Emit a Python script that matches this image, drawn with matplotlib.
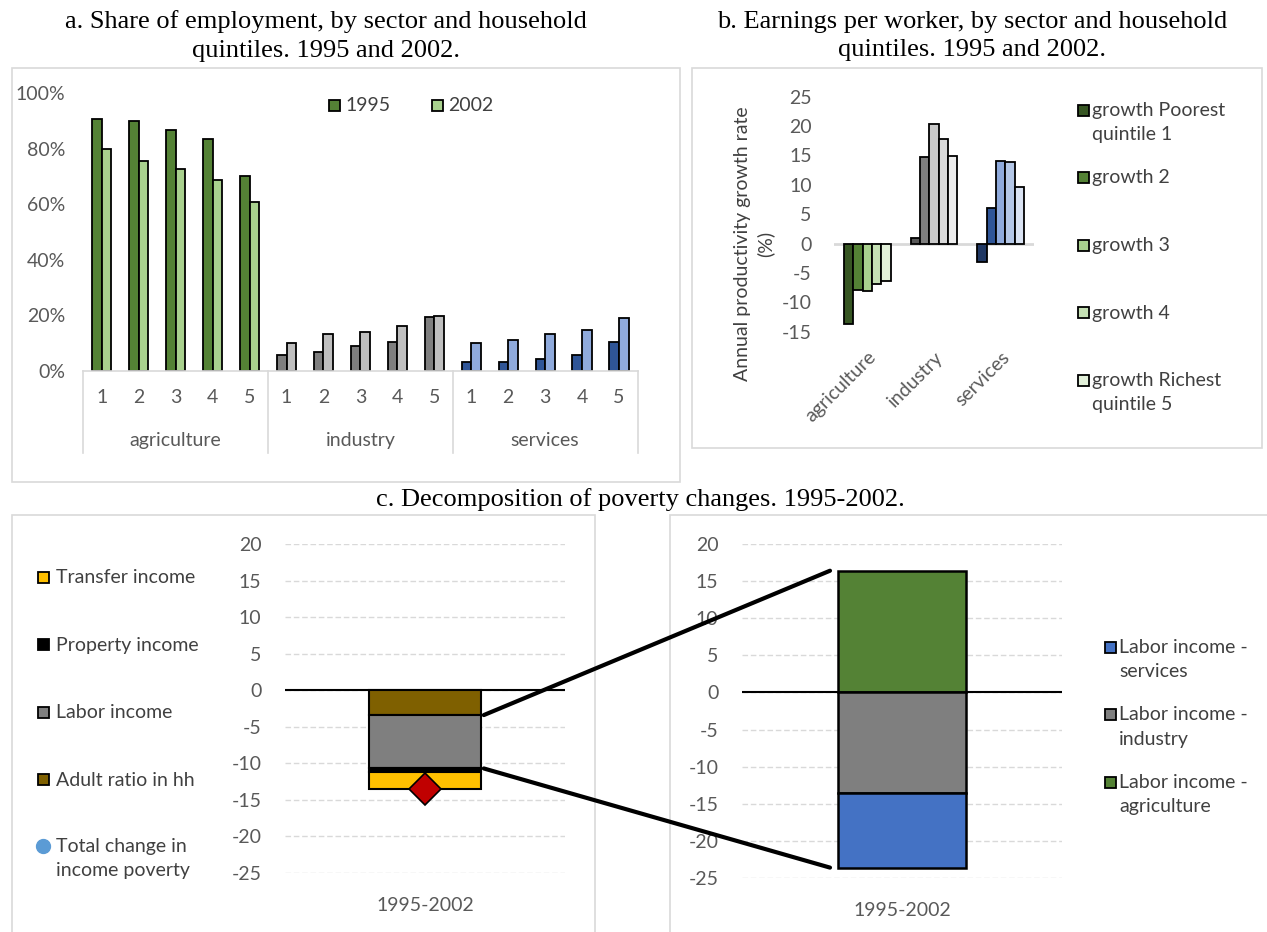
import numpy as np
import matplotlib
matplotlib.use("Agg")
import matplotlib.pyplot as plt
from matplotlib.patches import Rectangle, ConnectionPatch
from matplotlib.lines import Line2D
from matplotlib.ticker import PercentFormatter

plt.rcParams["font.family"] = ["Lato", "DejaVu Sans"]
plt.rcParams["axes.unicode_minus"] = False

# --- data -----------------------------------------------------------------
quintiles = ["1", "2", "3", "4", "5"]
sectors = ["agriculture", "industry", "services"]

# share of employment (%), by quintile
emp95_agri = [90.8, 90.0, 86.5, 83.5, 70.0]
emp02_agri = [80.0, 75.4, 72.5, 68.8, 60.6]
emp95_ind = [5.8, 6.6, 9.0, 10.4, 19.3]
emp02_ind = [9.8, 13.3, 13.9, 16.2, 19.8]
emp95_srv = [3.0, 3.0, 4.2, 5.8, 10.4]
emp02_srv = [9.8, 11.0, 13.2, 14.6, 19.1]

# annual productivity growth (%), by quintile
growth_agri = [-13.7, -7.9, -8.1, -6.9, -6.4]
growth_ind = [1.0, 14.7, 20.4, 17.8, 14.9]
growth_srv = [-3.2, 6.1, 14.1, 13.9, 9.7]
growth_labels = ["growth Poorest\nquintile 1", "growth 2", "growth 3",
                 "growth 4", "growth Richest\nquintile 5"]

# poverty decomposition 1995-2002 (stack order from zero downwards)
decomp_labels = ["Adult ratio in hh", "Labor income", "Property income", "Transfer income"]
decomp_values = [-3.4, -7.3, -0.5, -2.3]
total_change = -13.5

labor_labels = ["Labor income -\nagriculture", "Labor income -\nindustry", "Labor income -\nservices"]
labor_values = [16.4, -13.5, -10.1]

period = "1995-2002"

# --- colours --------------------------------------------------------------
greens = ["#375623", "#548235", "#a9d18e", "#c5e0b4", "#e2f0d9"]
greys = ["#595959", "#7f7f7f", "#c8c8c8", "#d9d9d9", "#ededed"]
blues = ["#203864", "#2f5597", "#8faadc", "#b4c7e7", "#dae3f3"]
decomp_colors = ["#7f6000", "#7f7f7f", "#000000", "#ffc000"]
labor_colors = ["#548235", "#7f7f7f", "#4472c4"]
tick_col = "#595959"
text_col = "#404040"
frame_col = "#d9d9d9"
fs = 14

W, H = 1267, 932
fig = plt.figure(figsize=(W / 100, H / 100), dpi=100)


def rect(x0, y0, x1, y1):
    # pixel box (top-left origin) -> figure fraction
    return [x0 / W, 1 - y1 / H, (x1 - x0) / W, (y1 - y0) / H]


def fx(x):
    return x / W


def fy(y):
    return 1 - y / H


def frame(x0, y0, x1, y1):
    fig.patches.append(Rectangle((fx(x0), fy(y1)), (x1 - x0) / W, (y1 - y0) / H,
                                 transform=fig.transFigure, fill=False,
                                 edgecolor=frame_col, lw=1.2))


def legend_item(x, y, label, color, marker="s", gap=17):
    if marker == "o":
        fig.add_artist(Line2D([fx(x + 5)], [fy(y)], marker="o", ms=10, color="#5b9bd5",
                              markeredgecolor="#5b9bd5", transform=fig.transFigure))
    else:
        fig.patches.append(Rectangle((fx(x), fy(y + 5.5)), 11 / W, 11 / H,
                                     transform=fig.transFigure, facecolor=color,
                                     edgecolor="black", lw=1.3))
    fig.text(fx(x + gap), fy(y - 8), label, ha="left", va="top", fontsize=fs,
             color=text_col, linespacing=1.5)


title_kw = dict(family="Liberation Serif", fontsize=19, ha="center", va="center",
                color="black", linespacing=1.4)

# --- panel a: share of employment ----------------------------------------
frame(12, 68, 680, 482)
fig.text(fx(326), fy(36), "a. Share of employment, by sector and household\nquintiles. 1995 and 2002.",
         **title_kw)

axA = fig.add_axes(rect(83.3, 93, 637.5, 370.7))
emp95 = [emp95_agri, emp95_ind, emp95_srv]
emp02 = [emp02_agri, emp02_ind, emp02_srv]
pair_cols = [("#548235", "#a9d18e"), ("#7f7f7f", "#bfbfbf"), ("#2f5597", "#8faadc")]
bw = 0.26
for s in range(3):
    pos = s * 5 + np.arange(5)
    axA.bar(pos - bw / 2, emp95[s], bw, color=pair_cols[s][0], edgecolor="black", lw=1.3)
    axA.bar(pos + bw / 2, emp02[s], bw, color=pair_cols[s][1], edgecolor="black", lw=1.3)
axA.set_xlim(-0.5, 14.5)
axA.set_ylim(0, 100)
axA.set_yticks(np.arange(0, 101, 20))
axA.yaxis.set_major_formatter(PercentFormatter(decimals=0))
axA.tick_params(axis="y", length=0, pad=13, labelsize=fs, labelcolor=tick_col)
axA.set_xticks([])
for sp in ["top", "right", "left"]:
    axA.spines[sp].set_visible(False)
axA.spines["bottom"].set_color(frame_col)
axA.spines["bottom"].set_linewidth(1.2)
xt = axA.get_xaxis_transform()
for s in range(3):
    for q in range(5):
        axA.text(s * 5 + q, -0.095, quintiles[q], transform=xt, ha="center", va="center",
                 fontsize=fs, color=tick_col)
    axA.text(s * 5 + 2, -0.25, sectors[s], transform=xt, ha="center", va="center",
             fontsize=fs, color=tick_col)
for b in [-0.5, 4.5, 9.5, 14.5]:
    axA.plot([b, b], [0, -0.296], transform=xt, clip_on=False, color=frame_col, lw=1.2)
legend_item(329, 105, "1995", "#548235", gap=16)
legend_item(432, 105, "2002", "#a9d18e", gap=16)

# --- panel b: earnings growth ------------------------------------------
frame(692, 68, 1262, 448)
fig.text(fx(972), fy(36), "b. Earnings per worker, by sector and household\nquintiles. 1995 and 2002.",
         **title_kw)

axB = fig.add_axes(rect(834, 96.7, 1034, 331.7))
growth = [growth_agri, growth_ind, growth_srv]
palettes = [greens, greys, blues]
gw = 0.14
for s in range(3):
    for q in range(5):
        axB.bar(s + (q - 2) * gw, growth[s][q], gw, color=palettes[s][q],
                edgecolor="black", lw=1.3, zorder=3)
axB.axhline(0, color=frame_col, lw=2, zorder=2)
axB.set_xlim(-0.5, 2.5)
axB.set_ylim(-15, 25)
axB.set_yticks(np.arange(-15, 26, 5))
axB.tick_params(axis="y", length=0, pad=16, labelsize=fs, labelcolor=tick_col)
axB.set_xticks(range(3))
axB.set_xticklabels(sectors, rotation=45, ha="right", rotation_mode="anchor")
axB.tick_params(axis="x", length=0, pad=12, labelsize=fs, labelcolor=tick_col)
for sp in axB.spines.values():
    sp.set_visible(False)
fig.text(fx(754), fy(244), "Annual productivity growth rate\n(%)", rotation=90,
         ha="center", va="center", multialignment="center", fontsize=fs,
         color=text_col, linespacing=1.35)
for i, lab in enumerate(growth_labels):
    legend_item(1078, 110 + i * 67.5, lab, greens[i], gap=14)

# --- panel c: poverty decomposition --------------------------------------
fig.text(fx(640), fy(500), "c. Decomposition of poverty changes. 1995-2002.", **title_kw)
frame(12, 515, 595, 945)
frame(670, 515, 1280, 945)

axL = fig.add_axes(rect(285, 544, 565, 873))
start = 0.0
seg_edges = []
for v, c in zip(decomp_values, decomp_colors):
    axL.bar(0, v, 0.4, bottom=start, color=c, edgecolor="black", lw=1.5, zorder=3)
    seg_edges.append((start, start + v))
    start += v
axL.plot(0, total_change, marker="D", ms=16, color="#c00000", markeredgecolor="black",
         mew=1.2, zorder=4, clip_on=False)

axR = fig.add_axes(rect(742, 544, 1062, 878))
bottoms = [0.0, 0.0, labor_values[1]]
for v, b, c in zip(labor_values, bottoms, labor_colors):
    axR.bar(0, v, 0.4, bottom=b, color=c, edgecolor="black", lw=1.8, zorder=3)

for ax in (axL, axR):
    ax.set_xlim(-0.5, 0.5)
    ax.set_ylim(-25, 20)
    ax.set_yticks(np.arange(-25, 21, 5))
    ax.yaxis.grid(True, color=frame_col, ls=(0, (4, 2)), lw=1)
    ax.set_axisbelow(True)
    ax.axhline(0, color="black", lw=1.5, zorder=2.5)
    ax.tick_params(axis="y", length=0, pad=17, labelsize=fs, labelcolor=tick_col)
    ax.set_xticks([0])
    ax.set_xticklabels([period])
    ax.tick_params(axis="x", length=0, pad=17, labelsize=fs, labelcolor=tick_col)
    for sp in ax.spines.values():
        sp.set_visible(False)

# zoom lines from the labor income segment to its breakdown
lab_top, lab_bot = seg_edges[1]
for ya, yb in [(lab_top, labor_values[0]), (lab_bot, bottoms[2] + labor_values[2])]:
    con = ConnectionPatch(xyA=(0.21, ya), coordsA=axL.transData,
                          xyB=(-0.225, yb), coordsB=axR.transData,
                          color="black", lw=3, zorder=5)
    fig.add_artist(con)

left_items = list(zip(decomp_labels, decomp_colors))[::-1]
for i, (lab, c) in enumerate(left_items):
    legend_item(38, 577 + i * 67.5, lab, c, gap=18)
legend_item(38, 846, "Total change in\nincome poverty", None, marker="o", gap=18)

for i, (lab, c) in enumerate(zip(labor_labels[::-1], labor_colors[::-1])):
    legend_item(1105, 647 + i * 67.5, lab, c, gap=14)

fig.savefig("out.png", dpi=100)
